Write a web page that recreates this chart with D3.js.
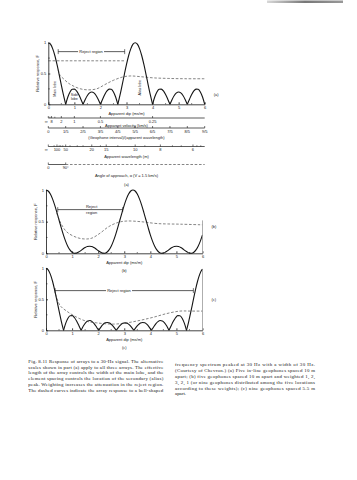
<!DOCTYPE html>
<html><head><meta charset="utf-8">
<script src="https://cdn.jsdelivr.net/npm/d3@7/dist/d3.min.js"></script>
<style>
body{margin:0;background:#fff}
svg{display:block}
text{font-family:"Liberation Sans",Arial,sans-serif;fill:#1a1a1a}
.cap{font-family:"Liberation Serif","Times New Roman",serif;fill:#111}
</style>
</head><body>
<svg id="c" width="357" height="480"></svg>
<script>
// ---------- data ----------
const dipAB=[0,.083,.167,.25,.333,.417,.5,.583,.667,.75,.833,.917,1,1.083,1.167,1.25,1.333,1.417,1.5,1.583,1.667,1.75,1.833,1.917,2,2.083,2.167,2.25,2.333,2.417,2.5,2.583,2.667,2.75,2.833,2.917,3,3.083,3.167,3.25,3.333,3.417,3.5,3.583,3.667,3.75,3.833,3.917,4,4.083,4.167,4.25,4.333,4.417,4.5,4.583,4.667,4.75,4.833,4.917,5,5.083,5.167,5.25,5.333,5.417,5.5,5.583,5.667,5.75,5.833,5.917,6];
const respA=[1,.976,.904,.792,.647,.483,.312,.147,0,.118,.2,.243,.247,.217,.159,.083,0,.079,.143,.185,.2,.185,.143,.079,0,.083,.159,.217,.247,.243,.2,.118,0,.147,.312,.483,.647,.792,.904,.976,1,.976,.904,.792,.647,.483,.312,.147,0,.118,.2,.243,.247,.217,.159,.083,0,.079,.143,.185,.2,.185,.143,.079,0,.083,.159,.217,.247,.243,.2,.118,0];
const respB=[1,.984,.936,.860,.762,.648,.526,.405,.291,.192,.111,.053,.016,.001,.003,.019,.042,.068,.090,.106,.111,.106,.090,.068,.042,.019,.003,.001,.016,.053,.111,.192,.291,.405,.526,.648,.762,.860,.936,.984,1,.984,.936,.860,.762,.648,.526,.405,.291,.192,.111,.053,.016,.001,.003,.019,.042,.068,.090,.106,.111,.106,.090,.068,.042,.019,.003,.001,.016,.053,.111,.192,.291];
const dipC=[0,.084,.168,.253,.337,.421,.505,.589,.673,.758,.842,.926,1.010,1.094,1.178,1.263,1.347,1.431,1.515,1.599,1.684,1.768,1.852,1.936,2.020,2.104,2.189,2.273,2.357,2.441,2.525,2.609,2.694,2.778,2.862,2.946,3.030,3.114,3.199,3.283,3.367,3.451,3.535,3.620,3.704,3.788,3.872,3.956,4.040,4.125,4.209,4.293,4.377,4.461,4.545,4.630,4.714,4.798,4.882,4.966,5.051,5.135,5.219,5.303,5.387,5.471,5.556,5.640,5.724,5.808,5.892,5.976,6];
const respC=[1,.975,.902,.787,.640,.474,.304,.141,0,.115,.195,.235,.236,.202,.145,.074,0,.068,.12,.15,.157,.14,.104,.054,0,.052,.094,.12,.127,.117,.088,.048,0,.047,.086,.112,.12,.112,.086,.047,0,.048,.088,.117,.127,.12,.094,.052,0,.054,.104,.14,.157,.15,.12,.068,0,.074,.145,.202,.236,.235,.195,.115,0,.141,.304,.474,.640,.787,.902,.975,.985];

const dashDipA=[0.38,0.45,0.57,0.75,0.9,1.2,1.5,1.85,2.17,2.5,2.87,3.15,3.5,4.0,4.6,5.3,6];
const dashA=[0.56,0.47,0.42,0.35,0.31,0.255,0.235,0.25,0.32,0.39,0.445,0.46,0.45,0.43,0.42,0.415,0.415];
const dashDipB=[0.41,0.54,0.79,1.18,1.5,1.76,2.08,2.4,2.78,3.1,3.62,4.26,5.15,6];
const dashB=[0.64,0.50,0.34,0.25,0.226,0.24,0.32,0.42,0.49,0.51,0.50,0.47,0.46,0.45];
const dashDipC=[0.37,0.54,0.79,1.18,1.56,1.94,2.58,3.09,3.6,4.11,4.63,5.14,5.52,6];
const dashC=[0.58,0.40,0.31,0.21,0.145,0.12,0.10,0.12,0.16,0.21,0.27,0.31,0.31,0.31];

const dipTicks=[0,1,2,3,4,5,6];
const dipMinor=[0.5,1.5,2.5,3.5,4.5,5.5];
const respTicks=[0,0.5,1];
const respMinor=[0.25,0.75];

const velLabels=["\u221E","8","2","1","0.5","0.25"];
const velDips=[0,0.125,0.5,1,2,4];
const geoLabels=["0","1/5","2/5","3/5","4/5","5/5","6/5","7/5","8/5","9/5"];
const geoDips=[0,0.667,1.333,2,2.667,3.333,4,4.667,5.333,6];
const wlLabels=["\u221E","100","50","20","15","10","8","6"];
const wlDips=[0,0.333,0.667,1.667,2.222,3.333,4.3,5.55];
const wlMinor=[0.222,0.417,0.476,0.556,0.833,1.111,1.333,2.0,2.667,3.704,4.762,5.1,5.7,5.85];
const angLabels=["0","90\u00B0"];
const angDips=[0,0.667];

const rejectA=[0.38,2.93,0.855]; // from, to, level
const rejectB=[0.45,2.94,0.69];
const rejectC=[0.35,5.65,0.64];
const thresholdA=[0,2.95,0.706];

const capLeft=["Fig. 8.11   Response of arrays to a 30-Hz signal. The alternative",
"scales shown in part (a) apply to all three arrays. The effective",
"length of the array controls the width of the main lobe, and the",
"element spacing controls the location of the secondary (alias)",
"peak. Weighting increases the attenuation in the reject region.",
"The dashed curves indicate the array response to a bell-shaped"];
const capRight=["frequency spectrum peaked at 30 Hz with a width of 30 Hz.",
"(Courtesy of Chevron.) (a) Five in-line geophones spaced 10 m",
"apart; (b) five geophones spaced 10 m apart and weighted 1, 2,",
"3, 2, 1 (or nine geophones distributed among the five locations",
"according to these weights); (c) nine geophones spaced 5.5 m",
"apart."];

// ---------- drawing ----------
const svg=d3.select("#c");
const FS=4;
const ink="#151515";
const DASH="2.6,1.7";

const grad=svg.append("defs").append("linearGradient").attr("id","g1");
grad.append("stop").attr("offset","0").attr("stop-color","#d8d8d8");
grad.append("stop").attr("offset","0.5").attr("stop-color","#777");
grad.append("stop").attr("offset","1").attr("stop-color","#999");
svg.append("rect").attr("x",267).attr("y",0.5).attr("width",76).attr("height",2.5).attr("fill","url(#g1)");

function panel(cfg){
  const g=svg.append("g");
  const x=d3.scaleLinear().domain([0,6]).range([cfg.x0,cfg.x1]);
  const y=d3.scaleLinear().domain([0,1]).range([cfg.yb,cfg.yt]);
  const ax=g.append("g").attr("transform",`translate(0,${cfg.yb})`)
    .call(d3.axisBottom(x).tickValues(dipTicks).tickFormat(d3.format("d")).tickSizeInner(-2).tickSizeOuter(0).tickPadding(2.2));
  ax.selectAll("text").attr("font-size",FS).attr("fill","#1a1a1a");
  ax.selectAll("line,path").attr("stroke",ink).attr("stroke-width",0.8);
  g.selectAll(".mx").data(dipMinor).join("line").attr("x1",d=>x(d)).attr("x2",d=>x(d))
    .attr("y1",cfg.yb).attr("y2",cfg.yb-1.2).attr("stroke",ink).attr("stroke-width",0.6);
  const ay=g.append("g").attr("transform",`translate(${cfg.x0},0)`)
    .call(d3.axisLeft(y).tickValues(respTicks).tickFormat(d=>d===0.5?"0.5":d3.format("d")(d)).tickSizeInner(-2).tickSizeOuter(0).tickPadding(2));
  ay.selectAll("text").attr("font-size",FS).attr("fill","#1a1a1a");
  ay.selectAll("line,path").attr("stroke",ink).attr("stroke-width",0.8);
  g.selectAll(".my").data(respMinor).join("line").attr("y1",d=>y(d)).attr("y2",d=>y(d))
    .attr("x1",cfg.x0).attr("x2",cfg.x0+1.5).attr("stroke",ink).attr("stroke-width",0.6);
  g.append("text").attr("transform",`translate(${cfg.x0-9},${(cfg.yt+cfg.yb)/2}) rotate(-90)`)
    .attr("text-anchor","middle").attr("font-size",FS).text("Relative response, F");
  g.append("text").attr("x",(cfg.x0+cfg.x1)/2).attr("y",cfg.yb+10.7).attr("text-anchor","middle")
    .attr("font-size",FS).text("Apparent dip (ms/m)");
  g.append("text").attr("x",cfg.x1+9).attr("y",cfg.labY).attr("font-size",FS).text(`(${cfg.id})`);

  const pts=cfg.dip.map((d,i)=>[d,cfg.resp[i]]);
  const line=d3.line().x(d=>x(d[0])).y(d=>y(d[1])).curve(d3.curveMonotoneX);
  let segs=[];
  if(cfg.split){
    let cur=[];
    pts.forEach((p,i)=>{cur.push(p); if(p[1]===0 && i>0 && i<pts.length-1){segs.push(cur);cur=[p];}});
    if(cur.length>1)segs.push(cur);
  } else segs=[pts];
  g.selectAll(".sol").data(segs).join("path").attr("d",line).attr("fill","none")
    .attr("stroke",ink).attr("stroke-width",1.1);
  const dpts=cfg.dashDip.map((d,i)=>[d,cfg.dash[i]]);
  g.append("path").attr("d",d3.line().x(d=>x(d[0])).y(d=>y(d[1])).curve(d3.curveCatmullRom)(dpts))
    .attr("fill","none").attr("stroke","#333").attr("stroke-width",0.6).attr("stroke-dasharray",DASH);
  return {g,x,y};
}

function reject(p,r,lines,tx,bg){
  const {g,x,y}=p;
  const yy=y(r[2]);
  g.append("line").attr("x1",x(r[0])).attr("x2",x(r[1])).attr("y1",yy).attr("y2",yy).attr("stroke",ink).attr("stroke-width",0.7);
  [r[0],r[1]].forEach(d=>g.append("line").attr("x1",x(d)).attr("x2",x(d)).attr("y1",yy-2.5).attr("y2",yy+2.5).attr("stroke",ink).attr("stroke-width",0.6));
  const cx=x(tx);
  const t=g.append("text").attr("text-anchor","middle").attr("font-size",FS);
  if(lines.length===1){
    t.append("tspan").attr("x",cx).attr("y",yy+1.4).text(lines[0]);
  } else {
    t.append("tspan").attr("x",cx).attr("y",yy-1.2).text(lines[0]);
    t.append("tspan").attr("x",cx).attr("y",yy+4.4).text(lines[1]);
  }
  if(bg){
    const bb=t.node().getBBox();
    g.insert("rect",()=>t.node()).attr("x",bb.x-1.2).attr("y",bb.y-0.3).attr("width",bb.width+2.4).attr("height",bb.height+0.6).attr("fill","#fff");
  }
}

const pa=panel({id:"a",x0:48.3,x1:204.7,yt:42.7,yb:104.3,labY:96,dip:dipAB,resp:respA,split:true,dashDip:dashDipA,dash:dashA});
pa.g.append("line").attr("x1",pa.x(thresholdA[0])).attr("x2",pa.x(thresholdA[1])).attr("y1",pa.y(thresholdA[2])).attr("y2",pa.y(thresholdA[2]))
  .attr("stroke","#333").attr("stroke-width",0.6).attr("stroke-dasharray",DASH);
reject(pa,rejectA,["Reject region"],1.64,true);
pa.g.append("text").attr("transform",`translate(${pa.x(0.28)},${pa.y(0.25)}) rotate(-90)`).attr("text-anchor","middle").attr("font-size",3.6).text("Main lobe");
const sl=pa.g.append("text").attr("text-anchor","middle").attr("font-size",3.6);
sl.append("tspan").attr("x",pa.x(1.0)).attr("y",pa.y(0.14)).text("Side");
sl.append("tspan").attr("x",pa.x(1.0)).attr("y",pa.y(0.07)).text("lobe");
pa.g.append("text").attr("transform",`translate(${pa.x(3.55)},${pa.y(0.27)}) rotate(-90)`).attr("text-anchor","middle").attr("font-size",3.6).text("Alias lobe");

function scaleRow(yLine,dips,labels,title,minor,opts={}){
  const x=pa.x;
  const g=svg.append("g");
  if(opts.angle){
    g.append("line").attr("x1",x(0)).attr("x2",x(dips[1])).attr("y1",yLine).attr("y2",yLine).attr("stroke",ink).attr("stroke-width",0.7);
    g.append("line").attr("x1",x(dips[1])).attr("x2",x(6)).attr("y1",yLine).attr("y2",yLine).attr("stroke","#333").attr("stroke-width",0.6).attr("stroke-dasharray",DASH);
  } else {
    g.append("line").attr("x1",x(0)).attr("x2",x(6)).attr("y1",yLine).attr("y2",yLine).attr("stroke",ink).attr("stroke-width",0.7);
  }
  g.selectAll(".t").data(dips).join("line").attr("x1",d=>x(d)).attr("x2",d=>x(d)).attr("y1",yLine).attr("y2",yLine-2).attr("stroke",ink).attr("stroke-width",0.6);
  g.selectAll(".m").data(minor||[]).join("line").attr("x1",d=>x(d)).attr("x2",d=>x(d)).attr("y1",yLine).attr("y2",yLine-1.3).attr("stroke",ink).attr("stroke-width",0.5);
  g.selectAll(".l").data(dips).join("text").attr("x",(d,i)=>x(d)+((labels[i]==="\u221E")?-2:0)).attr("y",yLine+4.6)
    .attr("text-anchor","middle").attr("font-size",FS).text((d,i)=>labels[i]);
  g.append("text").attr("x",(x(0)+x(6))/2).attr("y",yLine+opts.ty).attr("text-anchor","middle").attr("font-size",FS).text(title);
}
scaleRow(118,velDips,velLabels,"Apparent velocity (km/s)",[0.0625,0.25],{ty:8.8});
scaleRow(128,geoDips,geoLabels,"(Geophone interval)/(apparent wavelength)",[],{ty:10.8});
scaleRow(146.5,wlDips,wlLabels,"Apparent wavelength (m)",wlMinor,{ty:11.8});
scaleRow(164.5,angDips,angLabels,"Angle of approach, \u03B1 (V = 1.5 km/s)",[],{angle:true,ty:12.5});
svg.append("text").attr("x",(pa.x(0)+pa.x(6))/2).attr("y",185.5).attr("text-anchor","middle").attr("font-size",FS).text("(a)");

const pb=panel({id:"b",x0:46,x1:202.5,yt:190,yb:253.3,labY:227.5,dip:dipAB,resp:respB,split:false,dashDip:dashDipB,dash:dashB});
pb.g.append("line").attr("x1",pb.x(6)).attr("x2",pb.x(6)).attr("y1",pb.y(0)).attr("y2",pb.y(0.52)).attr("stroke","#999").attr("stroke-width",0.8);
reject(pb,rejectB,["Reject","region"],1.75,false);
svg.append("text").attr("x",(pb.x(0)+pb.x(6))/2).attr("y",272).attr("text-anchor","middle").attr("font-size",FS).text("(b)");

const pc=panel({id:"c",x0:46,x1:202.5,yt:268.3,yb:330.3,labY:300.5,dip:dipC,resp:respC,split:true,dashDip:dashDipC,dash:dashC});
pc.g.append("line").attr("x1",pc.x(6)).attr("x2",pc.x(6)).attr("y1",pc.y(0)).attr("y2",pc.y(0.98)).attr("stroke","#999").attr("stroke-width",0.8);
reject(pc,rejectC,["Reject region"],2.8,true);
svg.append("text").attr("x",(pc.x(0)+pc.x(6))/2).attr("y",348.5).attr("text-anchor","middle").attr("font-size",FS).text("(c)");

// caption (grouped with slight opacity for grayscale antialiasing)
const capG=svg.append("g").attr("opacity",0.98);
function column(lines,x0,w,y0){
  lines.forEach((s,i)=>{
    const t=capG.append("text").attr("class","cap").attr("x",x0).attr("y",y0+i*5.8).attr("font-size",4.9).text(s);
    if(s.length>40) t.attr("textLength",w).attr("lengthAdjust","spacing");
  });
}
column(capLeft,28.3,135,362.8);
column(capRight,175,140,366.3);
</script>
</body></html>
